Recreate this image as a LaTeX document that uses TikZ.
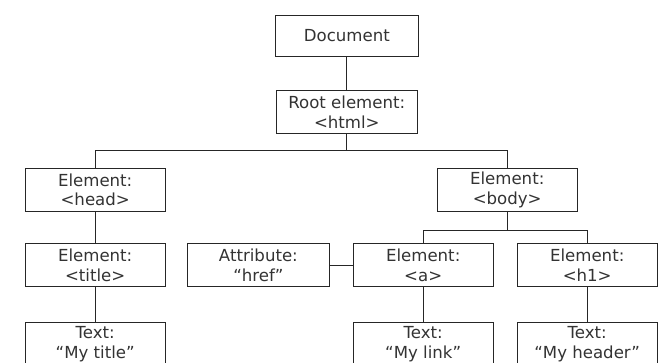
\documentclass[tikz,border=0pt]{standalone}
\usepackage{fontspec}
\setmainfont{DejaVu Sans}

\begin{document}
\begin{tikzpicture}[
        block/.style={rectangle, draw=black!85, line width=0.7pt, minimum width=3.5cm,
            minimum height=1.08cm, inner sep=1pt, align=center, text=black!80,
            font=\fontsize{11.8}{13.9}\selectfont},
        link/.style={draw=black!85, line width=0.7pt}
    ]
        \clip (0,0) rectangle (16.55,-9.075);
        \fill[white] (0,0) rectangle (16.55,-9.075);

        % Document and root
        \node[block, minimum width=3.56cm, minimum height=1.03cm] (doc) at (8.67,-0.89) {Document};
        \node[block, minimum width=3.53cm] (root) at (8.67,-2.8) {Root element:\\<html>};

        % First level
        \node[block] (head) at (2.38,-4.75) {Element:\\<head>};
        \node[block] (body) at (12.68,-4.75) {Element:\\<body>};

        % Second level
        \node[block] (title) at (2.38,-6.63) {Element:\\<title>};
        \node[block, minimum width=3.53cm] (attr) at (6.46,-6.63) {Attribute:\\“href”};
        \node[block] (a) at (10.58,-6.63) {Element:\\<a>};
        \node[block] (h1) at (14.68,-6.63) {Element:\\<h1>};

        % Text nodes
        \node[block] (ttitle) at (2.38,-8.6) {Text:\\“My title”};
        \node[block] (tlink) at (10.58,-8.6) {Text:\\“My link”};
        \node[block] (theader) at (14.68,-8.6) {Text:\\“My header”};

        % Connect everything
        \draw[link] (doc) -- (root);
        \draw[link] (root.south) -- ++(0,-0.42) -| (head.north);
        \draw[link] (root.south) -- ++(0,-0.42) -| (body.north);
        \draw[link] (head) -- (title);
        \draw[link] (title) -- (ttitle);
        \draw[link] (body.south) -- ++(0,-0.45) -| (a.north);
        \draw[link] (body.south) -- ++(0,-0.45) -| (h1.north);
        \draw[link] (attr) -- (a);
        \draw[link] (a) -- (tlink);
        \draw[link] (h1) -- (theader);
    \end{tikzpicture}
\end{document}
